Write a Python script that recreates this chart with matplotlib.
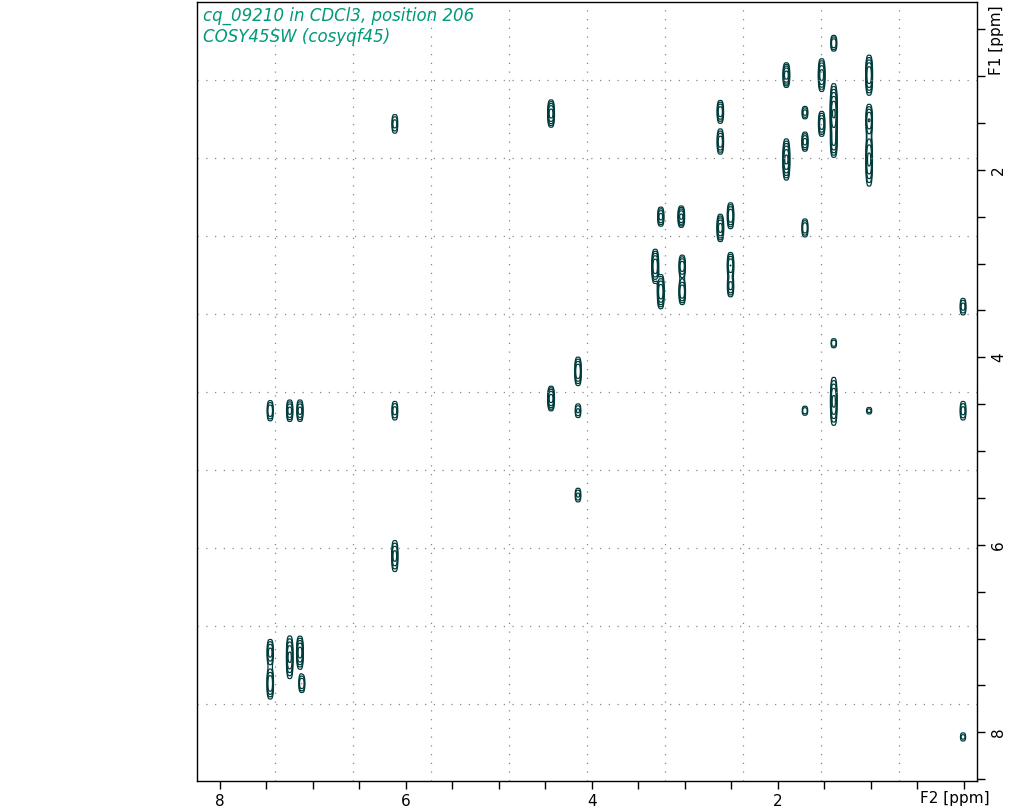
import numpy as np
import matplotlib
matplotlib.use("Agg")
import matplotlib.pyplot as plt

# Cross-peak positions (F2 ppm, F1 ppm), relative intensity, F1 extent (ppm)
peak_f2 = [1.40, 1.91, 1.53, 1.02, 4.44, 6.12, 2.62, 2.62, 1.71, 1.40, 1.53, 1.02, 1.71, 1.40,
           1.91, 1.02, 3.26, 3.04, 2.62, 2.51, 1.71, 3.32, 3.26, 3.03, 3.03, 2.51, 2.51, 0.01,
           1.40, 4.15, 4.44, 7.46, 7.25, 7.14, 6.12, 4.15, 1.71, 1.40, 1.02, 0.01, 4.15, 6.12,
           7.46, 7.25, 7.14, 7.46, 7.12, 0.01]
peak_f1 = [0.65, 0.99, 0.99, 0.99, 1.40, 1.51, 1.38, 1.70, 1.39, 1.40, 1.51, 1.47, 1.70, 1.70,
           1.89, 1.89, 2.50, 2.50, 2.62, 2.49, 2.62, 3.03, 3.30, 3.03, 3.30, 3.02, 3.24, 3.46,
           3.85, 4.15, 4.44, 4.57, 4.57, 4.57, 4.57, 4.57, 4.57, 4.47, 4.57, 4.57, 5.47, 6.12,
           7.15, 7.20, 7.15, 7.48, 7.48, 8.05]
peak_amp = [0.5, 1.0, 1.0, 1.2, 1.0, 0.4, 0.7, 0.7, 0.4, 2.0, 0.7, 0.8, 0.6, 0.8,
            1.4, 0.9, 0.6, 0.9, 1.0, 0.8, 0.5, 1.2, 1.2, 0.7, 0.8, 0.8, 0.6, 0.4,
            0.3, 0.8, 1.0, 0.5, 0.6, 0.6, 0.4, 0.35, 0.3, 0.9, 0.25, 0.4, 0.35, 0.6,
            0.6, 0.9, 1.0, 0.8, 0.5, 0.25]
peak_h1 = [0.07, 0.09, 0.12, 0.14, 0.10, 0.09, 0.09, 0.10, 0.06, 0.19, 0.10, 0.12, 0.08, 0.12,
           0.14, 0.20, 0.08, 0.08, 0.10, 0.10, 0.08, 0.12, 0.12, 0.09, 0.10, 0.10, 0.09, 0.08,
           0.05, 0.11, 0.09, 0.09, 0.09, 0.09, 0.09, 0.07, 0.05, 0.18, 0.04, 0.09, 0.07, 0.13,
           0.11, 0.16, 0.12, 0.12, 0.08, 0.05]

x_ticks = [8, 6, 4, 2]
y_ticks = [2, 4, 6, 8]
title_lines = ["cq_09210 in CDCl3, position 206", "COSY45SW (cosyqf45)"]

fig = plt.figure(figsize=(10.27, 8.11), dpi=100)
ax = fig.add_axes([197/1027, 30/811, 780/1027, 779/811])

xs = np.linspace(-0.2, 8.3, 1400)
ys = np.linspace(0.1, 8.6, 1400)
X, Y = np.meshgrid(xs, ys)
Z = np.zeros_like(X)
for f2, f1, a, h in zip(peak_f2, peak_f1, peak_amp, peak_h1):
    Z += a * np.exp(-((X - f2) / 0.03) ** 4 - ((Y - f1) / h) ** 2)
levels = [0.12, 0.2, 0.32, 0.5, 0.8, 1.25, 1.9]
ax.contour(X, Y, Z, levels=levels, colors="#003c3c", linewidths=0.9)

ax.set_xlim(8.247, -0.14)
ax.set_ylim(8.52, 0.21)

# dotted grid (TopSpin style, evenly spaced in pixels)
for k in range(9):
    gx = (275 - 197 + 78 * k) / 780
    ax.plot([gx, gx], [0, 1], transform=ax.transAxes, ls=(0, (1, 6)), color="#888888", lw=0.9)
for k in range(9):
    gy = 1 - (80 - 2 + 78 * k) / 779
    ax.plot([0, 1], [gy, gy], transform=ax.transAxes, ls=(0, (1, 6)), color="#888888", lw=0.9)

ax.set_xticks(np.arange(0, 8.01, 0.5), minor=True)
ax.set_xticks(x_ticks)
ax.set_xticklabels([str(t) for t in x_ticks], fontsize=11)
ax.yaxis.tick_right()
ax.set_yticks(np.arange(0.5, 8.51, 0.5), minor=True)
ax.set_yticks(y_ticks)
ax.set_yticklabels([str(t) for t in y_ticks], fontsize=11, rotation=90, va="center")
ax.tick_params(which="both", direction="out", length=6, width=1, color="black")
ax.tick_params(axis="y", which="both", left=False, right=True, pad=4)
for s in ax.spines.values():
    s.set_linewidth(1)

fig.text(955/1027, 1 - 798/811, "F2 [ppm]", fontsize=11, ha="center", va="center")
fig.text(997/1027, 1 - 40/811, "F1 [ppm]", fontsize=11, ha="center", va="center", rotation=90)
fig.text(203/1027, 1 - 16/811, title_lines[0], fontsize=12, style="italic", color="#00997a", va="center")
fig.text(203/1027, 1 - 37/811, title_lines[1], fontsize=12, style="italic", color="#00997a", va="center")

fig.savefig("out.png", dpi=100)
